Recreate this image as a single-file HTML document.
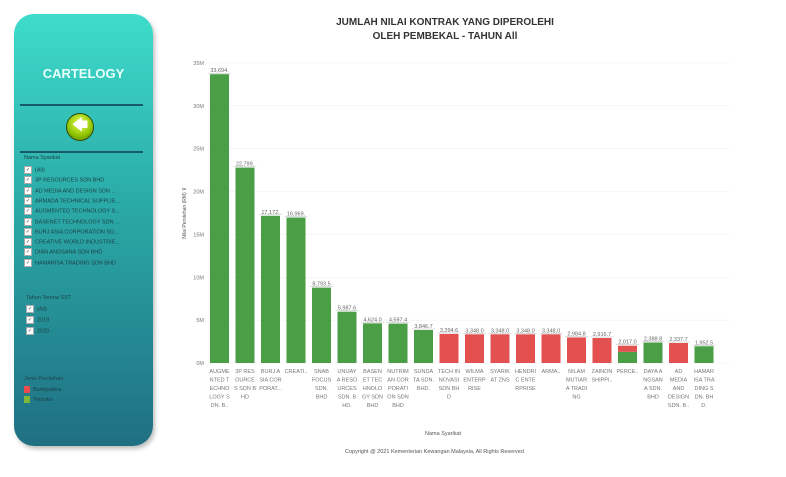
<!DOCTYPE html>
<html><head><meta charset="utf-8"><style>
body{margin:0;width:786px;height:477px;background:#fff;overflow:hidden;font-family:"Liberation Sans",sans-serif;position:relative}
#side{position:absolute;left:14px;top:14px;width:139px;height:432px;border-radius:20px;background:linear-gradient(#3edccb,#2aa9a6 45%,#1f6f82);box-shadow:2px 3px 4px rgba(0,0,0,.25)}
.t{position:absolute;color:#1c3f47;font-size:5.5px;white-space:nowrap}
.cb{display:inline-block;width:6px;height:6px;background:#fff;border:1px solid #aaa;margin-right:3px;vertical-align:middle;font-size:5px;line-height:6px;text-align:center;color:#333}
</style></head><body>
<div id="side">
 <div style="position:absolute;top:52px;width:100%;text-align:center;color:#eafffb;font-weight:bold;font-size:13px">CARTELOGY</div>
 <div style="position:absolute;left:6px;top:90px;width:123px;height:2px;background:#165a6c"></div>
 <div style="position:absolute;left:52px;top:99px;width:26px;height:26px;border-radius:50%;background:radial-gradient(circle at 50% 35%,#e6ff5a,#8fc200 60%,#4f7a00);border:1px solid #2b4a10;color:#fff;font-size:16px;line-height:24px;text-align:center">&#129092;</div>
 <div style="position:absolute;left:6px;top:137px;width:123px;height:2px;background:#165a6c"></div>
 <div class="t" style="left:10px;top:141px">Nama Syarikat</div>
 <div id="list1"></div>
 <div class="t" style="left:12px;top:281px">Tahun Terima SST</div>
 <div class="t" style="left:12px;top:291px"><span class="cb">✓</span>(All)</div>
 <div class="t" style="left:12px;top:302px"><span class="cb">✓</span>2019</div>
 <div class="t" style="left:12px;top:313px"><span class="cb">✓</span>2020</div>
 <div class="t" style="left:10px;top:362px">Jenis Perolehan</div>
 <div class="t" style="left:10px;top:372px"><span style="display:inline-block;width:6px;height:7px;background:#e84c4c;margin-right:3px;vertical-align:middle"></span>Bumiputera</div>
 <div class="t" style="left:10px;top:382px"><span style="display:inline-block;width:6px;height:7px;background:#7db83a;margin-right:3px;vertical-align:middle"></span>Terbuka</div>
</div>
<div style="position:absolute;left:300px;top:16px;width:290px;text-align:center;font-size:10px;font-weight:bold;color:#333;line-height:14px">JUMLAH NILAI KONTRAK YANG DIPEROLEHI<br>OLEH PEMBEKAL - TAHUN All</div>
<svg id="ch" width="786" height="477" style="position:absolute;left:0;top:0"></svg>
<div style="position:absolute;left:425px;top:431px;font-size:5.5px;color:#555">Nama Syarikat</div>
<div style="position:absolute;left:345px;top:449px;font-size:5.5px;color:#555">Copyright @ 2021 Kementerian Kewangan Malaysia, All Rights Reserved</div>
<script>
const companies=["(All)","3P RESOURCES SDN BHD","AD MEDIA AND DESIGN SDN ...","ARMADA TECHNICAL SUPPLIE...","AUGMENTED TECHNOLOGY S...","BASENET TECHNOLOGY SDN ...","BURJ ASIA CORPORATION SD...","CREATIVE WORLD INDUSTRIE...","DIAN ANGSANA SDN BHD","HAMARISA TRADING SDN BHD"];
const l1=document.getElementById('list1');
companies.forEach((c,i)=>{const d=document.createElement('div');d.className='t';d.style.left='10px';d.style.top=(152+i*10.3)+'px';d.innerHTML='<span class="cb">✓</span>'+c;


l1.appendChild(d);});

const categories=[["AUGME","NTED T","ECHNO","LOGY S","DN. B.."],["3P RES","OURCE","S SDN B","HD"],["BURJ A","SIA COR","PORAT..."],["CREATI.."],["SNAB","FOCUS","SDN.","BHD"],["UNIJAY","A RESO","URCES","SDN. B","HD."],["BASEN","ET TEC","HNOLO","GY SDN","BHD"],["NUTRIM","AN COR","PORATI","ON SDN","BHD"],["SUNDA","TA SDN.","BHD."],["TECH IN","NOVASI","SDN BH","D"],["WILMA","ENTERP","RISE"],["SYARIK","AT ZNS"],["HENDRI","C ENTE","RPRISE"],["ARMA.."],["NILAM","MUTIAR","A TRADI","NG"],["ZAINON","SHIPPI.."],["PERCE.."],["DAYA A","NGSAN","A SDN.","BHD"],["AD","MEDIA","AND","DESIGN","SDN. B.."],["HAMAR","ISA TRA","DING S","DN. BH","D."]];
const terbuka=[33.694,22.799,17.172,16.969,8.7935,5.9876,4.624,4.5974,3.8467,0,0,0,0,0,0,0,1.3,2.3888,0,1.9525];
const bumiputera=[0,0,0,0,0,0,0,0,0,3.3946,3.348,3.348,3.348,3.348,2.9848,2.9167,0.717,0,2.3377,0];
const valueLabels=["33,694.","22,799.","17,172.","16,969.","8,793.5","5,987.6","4,624.0","4,597.4","3,846.7","3,394.6","3,348.0","3,348.0","3,348.0","3,348.0","2,984.8","2,916.7","2,017.0","2,388.8","2,337.7","1,952.5"];
const ticks=[0,5,10,15,20,25,30,35];

const svg=document.getElementById('ch'),NS='http://www.w3.org/2000/svg';
const y0=363,pxPerM=300/35,x0=210,step=25.5,bw=19;
const Y=v=>y0-v*pxPerM, X=i=>x0+i*step;
function el(t,a,txt){const e=document.createElementNS(NS,t);for(const k in a)e.setAttribute(k,a[k]);if(txt!=null)e.textContent=txt;svg.appendChild(e);return e;}
ticks.forEach(t=>{
 const g=el('line',{x1:208,x2:730,y1:Y(t),y2:Y(t),stroke:'#f0f0f0','stroke-width':0.6});
 
 
 const tl=el('text',{x:204,y:Y(t)+2,'font-size':5.5,fill:'#777','text-anchor':'end'},t+'M');
 
 
});
const yt=el('text',{x:0,y:0,'font-size':5,fill:'#555','text-anchor':'middle',transform:'translate(186,213) rotate(-90)'},'Nilai Perolehan (RM) ⊽');


categories.forEach((c,i)=>{
 const x=X(i);
 const gv=terbuka[i],rv=bumiputera[i];
 if(gv>0){const r=el('rect',{x:x,y:Y(gv),width:bw,height:gv*pxPerM,fill:'#4a9e45'});
  
  }
 if(rv>0){const r=el('rect',{x:x,y:Y(gv+rv),width:bw,height:rv*pxPerM,fill:'#e25050'});
  
  }
 const top=Y(gv+rv);
 const vl=el('text',{x:x+bw/2,y:top-2,'font-size':5.5,fill:'#666','text-anchor':'middle'},valueLabels[i]);
 
 
 el('line',{x1:x-2,x2:x+bw+2,y1:top-1,y2:top-1,stroke:'#bbb','stroke-width':0.5});
 c.forEach((ln,j)=>{const t=el('text',{x:x+bw/2,y:373+j*8.5,'font-size':5.5,fill:'#777','text-anchor':'middle'},ln);
  
  });
});
</script>
</body></html>
